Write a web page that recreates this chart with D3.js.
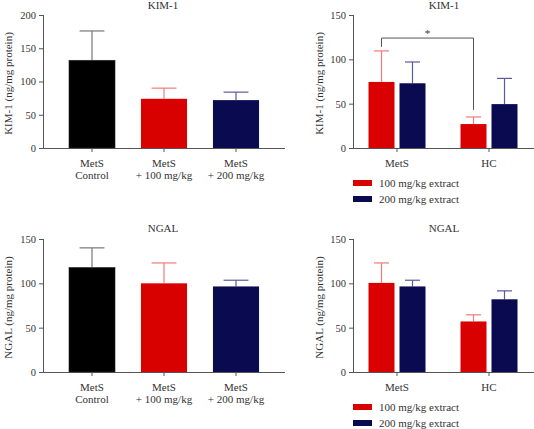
<!DOCTYPE html>
<html>
<head>
<meta charset="utf-8">
<script src="https://cdn.jsdelivr.net/npm/d3@7"></script>
<style>
  html, body { margin: 0; padding: 0; background: #fff; }
  svg text { font-family: "Liberation Serif", "Times New Roman", "DejaVu Serif", serif !important; fill: #333; }
</style>
</head>
<body>
<svg id="chart" width="534" height="429" font-family="Liberation Serif, Times New Roman, serif"></svg>
<script>
// ---------- data ----------
const singleCategories = [["MetS", "Control"], ["MetS", "+ 100 mg/kg"], ["MetS", "+ 200 mg/kg"]];
const kimSingleMeans = [132, 74, 72];
const kimSingleErr = [44, 16, 12];
const ngalSingleMeans = [118, 100, 96.5];
const ngalSingleErr = [22, 23, 7];

const groupCategories = ["MetS", "HC"];
const seriesNames = ["100 mg/kg extract", "200 mg/kg extract"];
const kim100Means = [74.5, 27];
const kim100Err = [35, 8];
const kim200Means = [73, 49.5];
const kim200Err = [24, 29];
const ngal100Means = [100.5, 57];
const ngal100Err = [22.5, 7.5];
const ngal200Means = [96.5, 82];
const ngal200Err = [7, 9.5];

const kimTicksSingle = [0, 50, 100, 150, 200];
const ticks150 = [0, 50, 100, 150];

// ---------- styles ----------
const FONT = '"Liberation Serif", "Times New Roman", serif';
const singleColors = ["#000000", "#d90000", "#0a0a50"];
const singleErrColors = ["#777777", "#f27a7a", "#5a5a9a"];
const seriesColors = ["#d90000", "#0a0a50"];
const seriesErrColors = ["#f27a7a", "#5a5a9a"];
const axisColor = "#555";

const svg = d3.select("#chart");

function txt(sel) {
  return sel.attr("font-family", FONT).style("font-family", FONT).attr("fill", "#333");
}

function styleAxis(g) {
  g.attr("font-family", FONT);
  g.selectAll("path.domain").remove();
  g.selectAll("line").attr("stroke", axisColor).attr("stroke-width", 1);
  txt(g.selectAll("text")).attr("font-size", 10.5);
}

function yAxisAndFrame(opts) {
  const { ax, top, bottom, xEnd, max, ticks, title, titleX, titleY, ylabel, ylabelX } = opts;
  const y = d3.scaleLinear().domain([0, max]).range([bottom, top]);
  const g = svg.append("g").attr("transform", `translate(${ax},0)`)
    .call(d3.axisLeft(y).tickValues(ticks).tickSize(4).tickPadding(3));
  styleAxis(g);
  svg.append("line").attr("x1", ax + 0.5).attr("x2", ax + 0.5)
    .attr("y1", y(max)).attr("y2", bottom).attr("stroke", axisColor);
  svg.append("line").attr("x1", ax).attr("x2", xEnd)
    .attr("y1", bottom + 0.5).attr("y2", bottom + 0.5).attr("stroke", axisColor);
  txt(svg.append("text")).attr("x", titleX).attr("y", titleY).attr("text-anchor", "middle")
    .attr("font-size", 11).text(title);
  txt(svg.append("text"))
    .attr("transform", `translate(${ylabelX},${(top + bottom) / 2 + 2}) rotate(-90)`)
    .attr("text-anchor", "middle").attr("dy", "0.35em").attr("font-size", 11).text(ylabel);
  return y;
}

function errBar(x, yTop, yErr, capW, color) {
  svg.append("line").attr("x1", x).attr("x2", x).attr("y1", yTop).attr("y2", yErr)
    .attr("stroke", color).attr("stroke-width", 1.2);
  svg.append("line").attr("x1", x - capW / 2).attr("x2", x + capW / 2).attr("y1", yErr).attr("y2", yErr)
    .attr("stroke", color).attr("stroke-width", 1.2);
}

function singlePanel(opts) {
  const { means, errs, bottom } = opts;
  const y = yAxisAndFrame(opts);
  const x = d3.scaleBand().domain(d3.range(singleCategories.length)).range([56, 272]);
  const bw = x.bandwidth() * 0.64;
  means.forEach((m, i) => {
    const cx = x(i) + x.bandwidth() / 2;
    errBar(cx, y(m), y(m + errs[i]), bw * 0.54, singleErrColors[i]);
    svg.append("rect").attr("x", cx - bw / 2).attr("y", y(m)).attr("width", bw)
      .attr("height", bottom - y(m)).attr("fill", singleColors[i])
      .attr("stroke", i === 0 ? "#333" : "none").attr("stroke-width", 0.5);
  });
  const gx = svg.append("g").attr("transform", `translate(0,${bottom})`)
    .call(d3.axisBottom(x).tickSize(4).tickFormat(""));
  styleAxis(gx);
  singleCategories.forEach((lines, i) => {
    const cx = x(i) + x.bandwidth() / 2;
    const t = txt(svg.append("text")).attr("x", cx).attr("y", bottom + 19)
      .attr("text-anchor", "middle").attr("font-size", 11);
    lines.forEach((ln, j) => t.append("tspan").attr("x", cx).attr("dy", j === 0 ? 0 : 12).text(ln));
  });
}

function groupPanel(opts) {
  const { s1, e1, s2, e2, bottom, legendY, sig } = opts;
  const y = yAxisAndFrame(opts);
  const x = d3.scaleBand().domain(groupCategories).range([351, 535]);
  const xs = d3.scaleBand().domain(seriesNames).range([-31, 31]);
  const bw = 26;
  const data = [[s1, e1], [s2, e2]];
  const centers = {};
  groupCategories.forEach((gname, gi) => {
    const gc = x(gname) + x.bandwidth() / 2;
    seriesNames.forEach((sname, si) => {
      const cx = gc + xs(sname) + xs.bandwidth() / 2;
      const m = data[si][0][gi], e = data[si][1][gi];
      centers[gname + si] = cx;
      errBar(cx, y(m), y(m + e), 15, seriesErrColors[si]);
      svg.append("rect").attr("x", cx - bw / 2).attr("y", y(m)).attr("width", bw)
        .attr("height", bottom - y(m)).attr("fill", seriesColors[si]);
    });
  });
  const gx = svg.append("g").attr("transform", `translate(0,${bottom})`)
    .call(d3.axisBottom(x).tickSize(4).tickFormat(""));
  styleAxis(gx);
  groupCategories.forEach(gname => {
    txt(svg.append("text")).attr("x", x(gname) + x.bandwidth() / 2).attr("y", bottom + 19)
      .attr("text-anchor", "middle").attr("font-size", 11).text(gname);
  });
  // legend
  seriesNames.forEach((sname, si) => {
    const ly = legendY + si * 16;
    svg.append("rect").attr("x", 353).attr("y", ly - 3).attr("width", 19).attr("height", 6)
      .attr("fill", seriesColors[si]);
    txt(svg.append("text")).attr("x", 379).attr("y", ly).attr("dy", "0.35em")
      .attr("font-size", 11).text(sname);
  });
  if (sig) {
    const xa = centers["MetS0"], xb = centers["HC0"];
    const yb = y(sig.level);
    svg.append("path")
      .attr("d", `M${xa},${y(sig.leftEnd)}V${yb}H${xb}V${y(sig.rightEnd)}`)
      .attr("fill", "none").attr("stroke", "#555").attr("stroke-width", 1);
    txt(svg.append("text")).attr("x", (xa + xb) / 2).attr("y", yb - 1)
      .attr("text-anchor", "middle").attr("font-size", 11).text(sig.label);
  }
}

singlePanel({
  ax: 43, top: 15, bottom: 148, xEnd: 285, max: 200, ticks: kimTicksSingle,
  title: "KIM-1", titleX: 163, titleY: 9, ylabel: "KIM-1 (ng/mg protein)", ylabelX: 8,
  means: kimSingleMeans, errs: kimSingleErr
});
groupPanel({
  ax: 353, top: 15, bottom: 148, xEnd: 534, max: 150, ticks: ticks150,
  title: "KIM-1", titleX: 444, titleY: 9, ylabel: "KIM-1 (ng/mg protein)", ylabelX: 319,
  s1: kim100Means, e1: kim100Err, s2: kim200Means, e2: kim200Err, legendY: 183,
  sig: { level: 124, leftEnd: 114, rightEnd: 43, label: "*" }
});
singlePanel({
  ax: 43, top: 239, bottom: 372, xEnd: 285, max: 150, ticks: ticks150,
  title: "NGAL", titleX: 163, titleY: 232, ylabel: "NGAL (ng/mg protein)", ylabelX: 8,
  means: ngalSingleMeans, errs: ngalSingleErr
});
groupPanel({
  ax: 353, top: 239, bottom: 372, xEnd: 534, max: 150, ticks: ticks150,
  title: "NGAL", titleX: 444, titleY: 232, ylabel: "NGAL (ng/mg protein)", ylabelX: 319,
  s1: ngal100Means, e1: ngal100Err, s2: ngal200Means, e2: ngal200Err, legendY: 407
});
</script>
</body>
</html>
